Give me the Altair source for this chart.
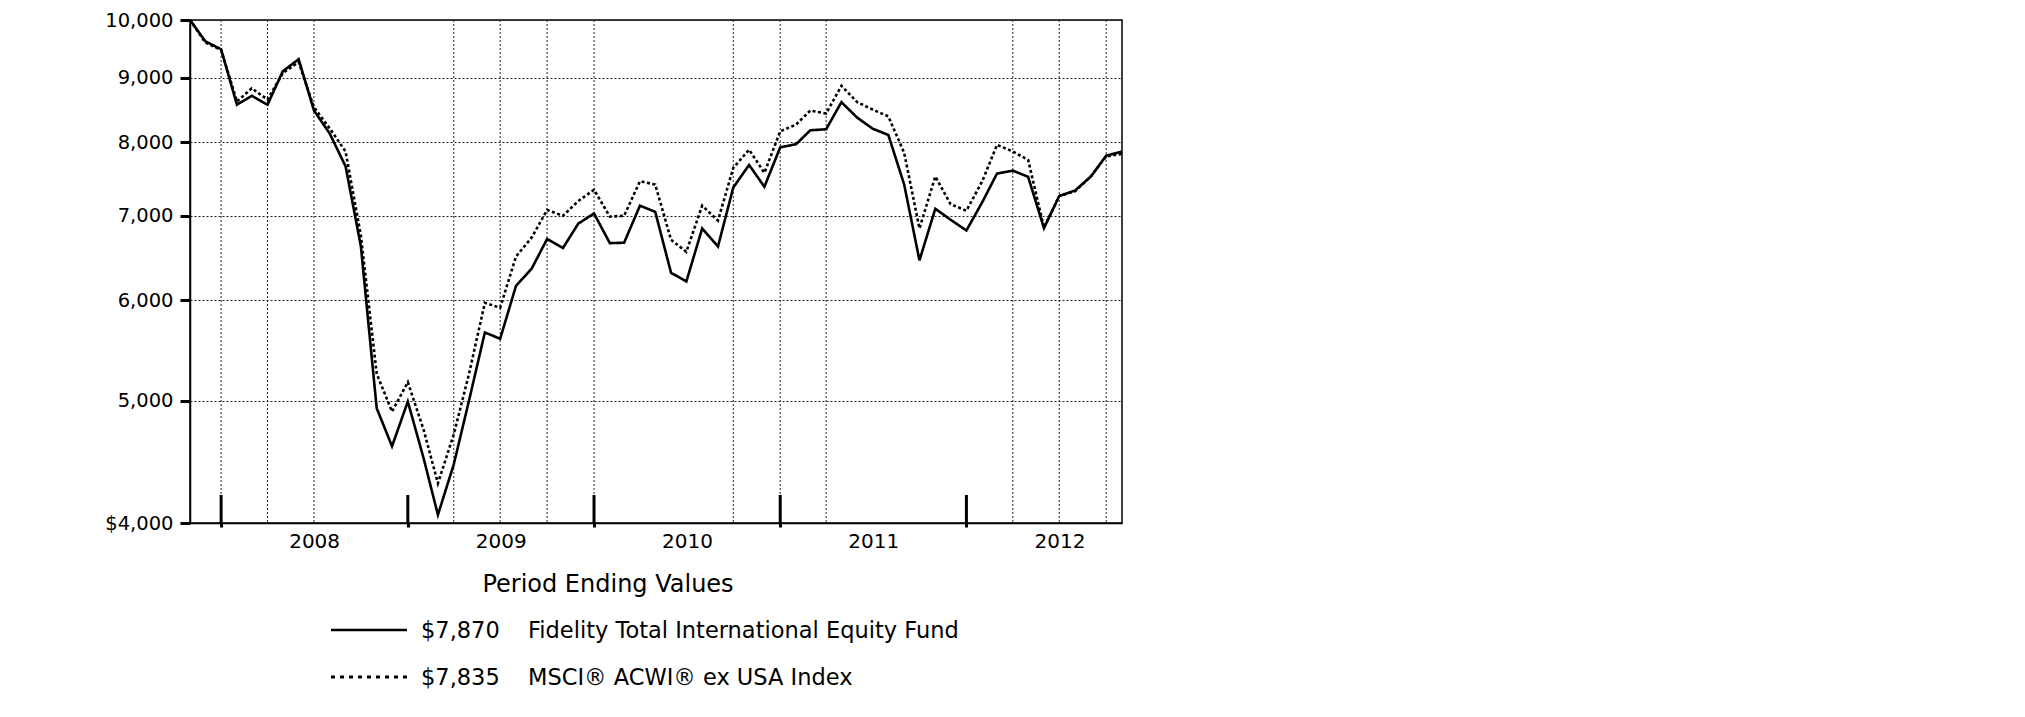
import altair as alt
import pandas as pd

# ---------------- data ----------------
MONTHS = pd.date_range("2007-11-01", periods=61, freq="MS").strftime("%Y-%m-%d").tolist()

FUND = [10000, 9620, 9480, 8570, 8710, 8570, 9110, 9310, 8480, 8130,
        7660, 6620, 4930, 4600, 4990, 4500, 4060, 4450, 5000, 5660,
        5595, 6160, 6360, 6710, 6600, 6900, 7030, 6660, 6665, 7130,
        7050, 6310, 6210, 6840, 6620, 7370, 7680, 7380, 7930, 7975,
        8180, 8195, 8610, 8370, 8205, 8110, 7410, 6455, 7090, 6950,
        6815, 7175, 7560, 7600, 7515, 6845, 7257, 7330, 7520, 7810,
        7870]

INDEX = [10000, 9600, 9470, 8620, 8830, 8650, 9080, 9260, 8530, 8205,
         7870, 6750, 5250, 4900, 5170, 4740, 4300, 4700, 5250, 5975,
         5920, 6500, 6730, 7075, 7000, 7190, 7340, 6990, 7000, 7455,
         7410, 6700, 6555, 7130, 6940, 7640, 7895, 7570, 8165, 8265,
         8480, 8435, 8870, 8610, 8495, 8390, 7850, 6840, 7520, 7150,
         7065, 7455, 7965, 7870, 7750, 6850, 7257, 7320, 7520, 7800,
         7835]

SERIES_NAMES = ["Fidelity Total International Equity Fund", "MSCI\u00ae ACWI\u00ae ex USA Index"]
LEGEND_TITLE = "Period Ending Values"
Y_TICKS = [4000, 5000, 6000, 7000, 8000, 9000, 10000]
YEAR_STARTS = ["2008-01-01", "2009-01-01", "2010-01-01", "2011-01-01", "2012-01-01"]
GRID_DATES = ["2008-01-01", "2008-04-01", "2008-07-01", "2009-04-01", "2009-07-01",
              "2009-10-01", "2010-01-01", "2010-10-01", "2011-01-01", "2011-04-01",
              "2012-04-01", "2012-07-01", "2012-10-01"]
X_DOMAIN = ["2007-11-01", "2012-11-01"]

# ---------------- layout / style ----------------
W, H = 932, 503
TOP = 12
FONT = "DejaVu Sans"


def ts(s):
    return int(pd.Timestamp(s, tz="UTC").value // 10**6)


df = pd.DataFrame({
    "date": MONTHS * 2,
    "value": FUND + INDEX,
    "series": [SERIES_NAMES[0]] * len(FUND) + [SERIES_NAMES[1]] * len(INDEX),
})

x_scale = alt.Scale(type="utc", domain=[ts(X_DOMAIN[0]), ts(X_DOMAIN[1])], nice=False)
y_scale = alt.Scale(type="log", domain=[4000, 10000], nice=False, zero=False)

x_axis = alt.Axis(
    values=[ts(d) for d in YEAR_STARTS],
    labelExpr="utcFormat(datum.value, '%Y')",
    labelOffset=93, labelFlush=False, labelOverlap=False,
    grid=False, ticks=True, tickSize=4, tickWidth=3, tickColor="black",
    labelPadding=4, labelFont=FONT, labelFontSize=20, labelColor="black",
    domainColor="black", domainWidth=1.5, title=None,
)
y_axis = alt.Axis(
    values=Y_TICKS,
    labelExpr="datum.value == 4000 ? '$4,000' : format(datum.value, ',')",
    grid=True, gridDash=[2, 2], gridColor="#222222", gridWidth=1,
    ticks=True, tickSize=10, tickWidth=3, tickColor="black",
    labelPadding=7, labelFont=FONT, labelFontSize=19.5, labelColor="black",
    domainColor="black", domainWidth=1.5, title=None,
)

grid_v = alt.Chart(pd.DataFrame({"date": GRID_DATES})).mark_rule(
    color="#222222", strokeWidth=1, strokeDash=[2, 2]
).encode(x=alt.X("date:T", scale=x_scale, axis=x_axis))

lines = alt.Chart(df).mark_line(color="black", strokeWidth=2.6).encode(
    x=alt.X("date:T", scale=x_scale, axis=x_axis),
    y=alt.Y("value:Q", scale=y_scale, axis=y_axis),
    strokeDash=alt.StrokeDash(
        "series:N",
        scale=alt.Scale(domain=SERIES_NAMES, range=[[1, 0], [3, 2.5]]),
        legend=None,
    ),
)

year_ticks = alt.Chart(pd.DataFrame({"date": YEAR_STARTS})).mark_rule(
    color="black", strokeWidth=3
).encode(x=alt.X("date:T"), y=alt.value(H - 28), y2=alt.value(H))

# ---------------- custom legend (positions in plot pixels) ----------------
OFF = 9 - TOP + 2
ROW_Y = [611 + OFF, 658 + OFF]
legend_layers = [
    alt.Chart(pd.DataFrame({"t": [LEGEND_TITLE]})).mark_text(
        font=FONT, fontSize=24, align="center", baseline="middle", color="black"
    ).encode(x=alt.value(418), y=alt.value(566 + OFF), text="t:N")
]
END_VALUES = [FUND[-1], INDEX[-1]]
DASHES = [[1, 0], [4, 5]]
for r in range(2):
    legend_layers.append(
        alt.Chart(pd.DataFrame({"n": [SERIES_NAMES[r]]})).mark_rule(
            color="black", strokeWidth=2.5 if r == 0 else 3, strokeDash=DASHES[r]
        ).encode(x=alt.value(141), x2=alt.value(217), y=alt.value(ROW_Y[r]))
    )
    legend_layers.append(
        alt.Chart(pd.DataFrame({"t": ["${:,}".format(END_VALUES[r])]})).mark_text(
            font=FONT, fontSize=22.5, align="left", baseline="middle", color="black"
        ).encode(x=alt.value(231), y=alt.value(ROW_Y[r] + 1), text="t:N")
    )
    legend_layers.append(
        alt.Chart(pd.DataFrame({"t": [SERIES_NAMES[r]]})).mark_text(
            font=FONT, fontSize=22.5, align="left", baseline="middle", color="black"
        ).encode(x=alt.value(338), y=alt.value(ROW_Y[r] + 1), text="t:N")
    )

chart = alt.layer(grid_v, lines, year_ticks, *legend_layers).properties(
    width=W, height=H,
    autosize=alt.AutoSizeParams(type="none"),
    padding={"left": 182, "top": TOP, "right": 30, "bottom": 185},
    background="white",
).configure_view(stroke="black", strokeWidth=1.5)

chart.save("out.html", embed_options={"renderer": "svg", "actions": False})
